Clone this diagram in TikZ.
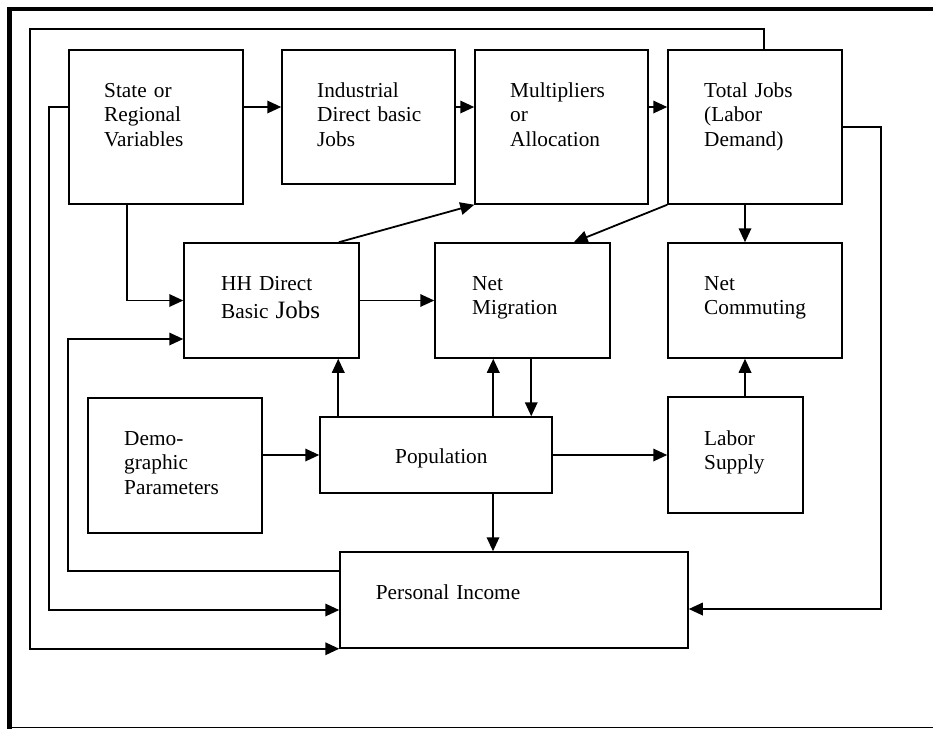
\documentclass[tikz,border=0pt]{standalone}
\usepackage{fontspec}
\setmainfont{Liberation Serif}
\usetikzlibrary{arrows.meta}

\begin{document}
\begin{tikzpicture}[x=1pt, y=-1pt,
    box/.style={draw, line width=1.5pt, inner sep=0pt},
    txt/.style={anchor=base west, inner sep=0pt, align=left, text width=170pt,
                font=\fontsize{21.3}{24.5}\selectfont},
    flow/.style={line width=1.8pt, -{Triangle[length=14pt,width=12.5pt]}}]
            \useasboundingbox (0,0) rectangle (933,729);

            % frame
            \draw[line width=3.5pt] (7,9) -- (933,9);
            \draw[line width=4.5pt] (9.5,7) -- (9.5,729);
            \draw[line width=1.5pt] (9,727.7) -- (933,727.7);

            % top row
            \node[box, minimum width=174pt, minimum height=154pt] (state) at (156,127) {};
            \node[box, minimum width=173pt, minimum height=134pt] (ind) at (368.5,117) {};
            \node[box, minimum width=173pt, minimum height=154pt] (mult) at (561.5,127) {};
            \node[box, minimum width=174pt, minimum height=154pt] (total) at (755,127) {};
            \node[txt] (state-t) at (104,97) {State or\\Regional\\Variables};
            \node[txt] (ind-t) at (317,97) {Industrial\\Direct basic\\Jobs};
            \node[txt] (mult-t) at (510,97) {Multipliers\\or\\Allocation};
            \node[txt] (total-t) at (704,97) {Total Jobs\\(Labor\\Demand)};

            % middle row
            \node[box, minimum width=175pt, minimum height=115pt] (hh) at (271.5,300.5) {};
            \node[box, minimum width=175pt, minimum height=115pt] (netmig) at (522.5,300.5) {};
            \node[box, minimum width=174pt, minimum height=115pt] (netcom) at (755,300.5) {};
            \node[txt] (hh-t) at (221,290) {HH Direct\\[4pt]Basic {\fontsize{25}{28}\selectfont Jobs}};
            \node[txt] (netmig-t) at (472,290) {Net\\Migration};
            \node[txt] (netcom-t) at (704,290) {Net\\Commuting};

            % lower rows
            \node[box, minimum width=174pt, minimum height=135pt] (demo) at (175,465.5) {};
            \node[box, minimum width=232pt, minimum height=76pt] (pop) at (436,455) {};
            \node[box, minimum width=135pt, minimum height=116pt] (labor) at (735.5,455) {};
            \node[box, minimum width=348pt, minimum height=96pt] (income) at (514,600) {};
            \node[txt] (demo-t) at (124,445) {Demo-\\graphic\\Parameters};
            \node[txt] (pop-t) at (395,463) {Population};
            \node[txt] (labor-t) at (704,445) {Labor\\Supply};
            \node[txt] (income-t) at (375.7,599) {Personal Income};

            % flows
            \draw[flow] ([yshift=20pt]state.east) -- ([yshift=20pt]state.east -| ind.west);
            \draw[flow] ([yshift=20pt]mult.west -| ind.east) -- ([yshift=20pt]mult.west);
            \draw[flow] ([yshift=20pt]mult.east) -- ([yshift=20pt]total.west);
            \draw[flow] ([xshift=-29pt]state.south) |- (hh.west);
            \draw[flow] (hh.east) -- (netmig.west);
            \draw[flow] ([xshift=-21pt]hh.north east) -- (mult.south west);
            \draw[flow] (total.south west) -- ([xshift=-37pt]netmig.north east);
            \draw[flow] ([xshift=-10pt]total.south) -- ([xshift=-10pt]netcom.north);
            \draw[flow] ([xshift=-10pt]netcom.south |- labor.north) -- ([xshift=-10pt]netcom.south);
            \draw[flow] (demo.east |- pop.west) -- (pop.west);
            \draw[flow] (pop.east) -- (labor.west);
            \draw[flow] ([xshift=19pt]pop.north west) -- ([xshift=19pt]pop.north west |- hh.south);
            \draw[flow] ([xshift=59pt]netmig.south west |- pop.north) -- ([xshift=59pt]netmig.south west);
            \draw[flow] ([xshift=97pt]netmig.south west) -- ([xshift=97pt]netmig.south west |- pop.north);
            \draw[flow] ([xshift=57pt]pop.south) -- ([xshift=57pt]pop.south |- income.north);

            % feedback loops
            \draw[flow] (total.east) -- ++(38,0) |- ([yshift=-9pt]income.east);
            \draw[flow] ([yshift=20pt]state.west) -- ++(-19,0) |- ([yshift=-10pt]income.west);
            \draw[flow] ([xshift=9pt]total.north) -- ++(0,-20) -- ++(-734,0) |- (income.south west);
            \draw[flow] ([yshift=29pt]income.west) -- ++(-271,0) |- ([yshift=-38.5pt]hh.west);
\end{tikzpicture}
\end{document}
